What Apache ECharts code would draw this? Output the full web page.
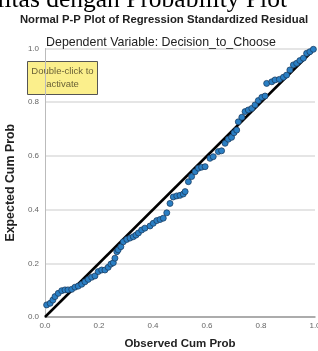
<!DOCTYPE html>
<html lang="en">
<head>
    <meta charset="UTF-8">
    <title>Normal P-P Plot</title>
    <script src="https://cdn.jsdelivr.net/npm/echarts@6/dist/echarts.min.js"></script>
    <style>
        html, body { margin: 0; padding: 0; background: #fff; }
    </style>
</head>
<body>
    <div id="main" style="width: 318px;height:351px;"></div>
    <script>
        // observed vs expected cumulative probability
        let observed = [0.006, 0.019, 0.029, 0.037, 0.049, 0.062, 0.074, 0.085, 0.099, 0.111,
            0.123, 0.136, 0.148, 0.160, 0.173, 0.185, 0.197, 0.210, 0.222, 0.234,
            0.244, 0.253, 0.259, 0.266, 0.271, 0.281, 0.290, 0.303, 0.315, 0.327,
            0.337, 0.346, 0.358, 0.370, 0.389, 0.401, 0.414, 0.426, 0.438, 0.451,
            0.463, 0.475, 0.488, 0.500, 0.512, 0.519, 0.531, 0.543, 0.556, 0.568,
            0.580, 0.593, 0.611, 0.623, 0.642, 0.654, 0.667, 0.679, 0.691, 0.700,
            0.710, 0.716, 0.729, 0.741, 0.753, 0.766, 0.778, 0.790, 0.803, 0.815,
            0.821, 0.840, 0.852, 0.868, 0.883, 0.895, 0.907, 0.920, 0.932, 0.944,
            0.957, 0.969, 0.981, 0.994]
        let expected = [0.045, 0.051, 0.063, 0.076, 0.088, 0.098, 0.101, 0.101, 0.103, 0.111,
            0.115, 0.122, 0.131, 0.140, 0.148, 0.153, 0.169, 0.175, 0.175, 0.185,
            0.197, 0.202, 0.219, 0.243, 0.250, 0.262, 0.280, 0.289, 0.294, 0.299,
            0.305, 0.313, 0.324, 0.331, 0.339, 0.349, 0.359, 0.363, 0.368, 0.388,
            0.423, 0.447, 0.451, 0.453, 0.458, 0.467, 0.504, 0.523, 0.541, 0.554,
            0.558, 0.560, 0.591, 0.597, 0.616, 0.619, 0.647, 0.662, 0.669, 0.686,
            0.696, 0.727, 0.744, 0.765, 0.771, 0.777, 0.790, 0.806, 0.818, 0.823,
            0.870, 0.876, 0.883, 0.885, 0.893, 0.901, 0.920, 0.939, 0.945, 0.955,
            0.964, 0.982, 0.988, 0.997]
        let diagonal = [[0, 0], [1, 1]]
    </script>
    <script>
        var chartDom = document.getElementById('main');
        var myChart = echarts.init(chartDom);
        var option;

        var tickLabel = {
            fontFamily: 'Liberation Sans',
            fontSize: 8,
            color: '#666',
            formatter: function (v) { return v.toFixed(1); }
        };

        option = {
            animation: false,
            title: [
                {
                    text: 'Normal P-P Plot of Regression Standardized Residual',
                    left: 159,
                    top: 9,
                    textAlign: 'center',
                    textStyle: { fontFamily: 'Liberation Sans', fontSize: 11.3, fontWeight: 'bold', color: '#222' }
                },
                {
                    text: 'Dependent Variable: Decision_to_Choose',
                    left: 156,
                    top: 32,
                    textAlign: 'center',
                    textStyle: { fontFamily: 'Liberation Sans', fontSize: 12.4, fontWeight: 'normal', color: '#222' }
                }
            ],
            grid: {
                left: 45,
                right: 3,
                top: 48.5,
                bottom: 34,
                outerBoundsMode: 'none',
                containLabel: false
            },
            xAxis: {
                type: 'value',
                min: 0,
                max: 1,
                interval: 0.2,
                name: 'Observed Cum Prob',
                nameLocation: 'middle',
                nameGap: 21,
                nameTextStyle: { fontFamily: 'Liberation Sans', fontSize: 11.5, fontWeight: 'bold', color: '#222' },
                axisLine: { show: true, lineStyle: { color: '#999', width: 1.5 } },
                axisTick: { show: false },
                splitLine: { show: false },
                axisLabel: Object.assign({ margin: 5 }, tickLabel)
            },
            yAxis: {
                type: 'value',
                min: 0,
                max: 1,
                interval: 0.2,
                name: 'Expected Cum Prob',
                nameLocation: 'middle',
                nameGap: 24,
                nameTextStyle: { fontFamily: 'Liberation Sans', fontSize: 12.4, fontWeight: 'bold', color: '#222' },
                axisLine: { show: true, lineStyle: { color: '#bbb', width: 1 } },
                axisTick: { show: false },
                splitLine: { show: true, lineStyle: { color: '#ddd', width: 1.5 } },
                axisLabel: Object.assign({ margin: 6 }, tickLabel)
            },
            graphic: [
                {
                    type: 'text',
                    right: 31,
                    top: -13,
                    style: {
                        text: 'Normalitas dengan Probability Plot',
                        font: '25.5px "Liberation Serif"',
                        fill: '#000'
                    }
                },
                {
                    type: 'group',
                    left: 27,
                    top: 61,
                    children: [
                        {
                            type: 'rect',
                            shape: { x: 0, y: 0, width: 70, height: 33 },
                            style: { fill: '#fbef8c', stroke: '#555', lineWidth: 1 }
                        },
                        {
                            type: 'text',
                            x: 35,
                            y: 16.5,
                            style: {
                                text: 'Double-click to\nactivate',
                                font: '9.5px "Liberation Sans"',
                                fill: '#6b6238',
                                align: 'center',
                                verticalAlign: 'middle',
                                lineHeight: 13
                            }
                        }
                    ]
                }
            ],
            series: [
                {
                    type: 'scatter',
                    data: observed.map((v, i) => [v, expected[i]]),
                    symbolSize: 6,
                    itemStyle: { color: '#2a7fc4', borderColor: '#1c3f63', borderWidth: 0.8, opacity: 1 },
                    z: 3
                },
                {
                    type: 'line',
                    data: diagonal,
                    symbol: 'none',
                    lineStyle: { color: '#000', width: 2.5 },
                    z: 2
                }
            ]
        };

        option && myChart.setOption(option);
    </script>
</body>
</html>
